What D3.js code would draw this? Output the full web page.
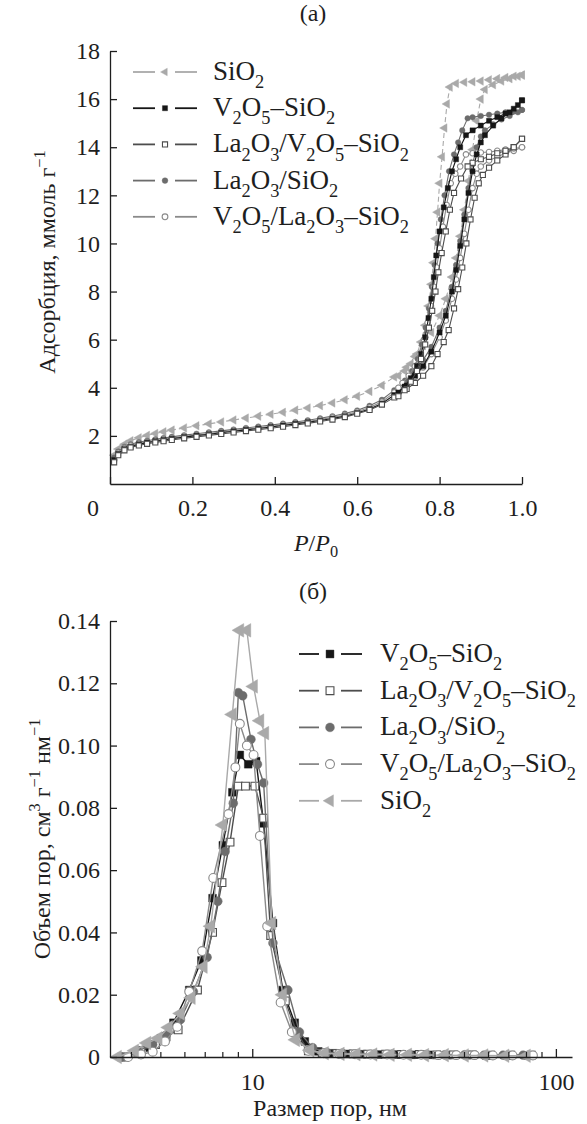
<!DOCTYPE html>
<html><head><meta charset="utf-8">
<script src="https://cdn.jsdelivr.net/npm/d3@7"></script>
<style>
body{margin:0;background:#fff}
svg{display:block}
</style>
</head><body>
<svg id="c" width="587" height="1124"></svg>
<script>
// ---------------- DATA: (a) isotherms ----------------
const pLow = [0.01,0.02,0.035,0.05,0.07,0.09,0.11,0.13,0.15,0.18,0.21,0.24,0.27,0.30,0.33,0.36,0.39,0.42,0.45,0.48,0.51,0.54,0.57,0.60,0.63,0.66,0.69];

const lowSiO2 = [1.2,1.45,1.65,1.8,1.92,2.02,2.1,2.17,2.24,2.33,2.42,2.5,2.58,2.66,2.74,2.82,2.9,2.98,3.07,3.16,3.26,3.37,3.5,3.65,3.85,4.1,4.45];
const lowVS   = [1.0,1.25,1.45,1.55,1.65,1.72,1.78,1.83,1.88,1.95,2.01,2.07,2.13,2.19,2.25,2.31,2.37,2.43,2.5,2.57,2.64,2.72,2.82,2.95,3.12,3.35,3.7];
const lowLVS  = [0.9,1.2,1.4,1.52,1.6,1.67,1.73,1.78,1.83,1.9,1.96,2.02,2.08,2.14,2.2,2.26,2.32,2.38,2.45,2.52,2.6,2.68,2.78,2.92,3.08,3.3,3.6];
const lowLS   = [1.1,1.35,1.55,1.65,1.74,1.8,1.86,1.91,1.96,2.03,2.09,2.15,2.21,2.27,2.33,2.39,2.45,2.51,2.58,2.65,2.73,2.82,2.93,3.06,3.25,3.5,3.9];
const lowVLS  = [1.0,1.3,1.5,1.6,1.68,1.75,1.81,1.86,1.91,1.98,2.04,2.1,2.16,2.22,2.28,2.34,2.4,2.46,2.53,2.6,2.68,2.77,2.87,3.0,3.18,3.42,3.8];

const adsSiO2 = [[0.72,4.85],[0.74,5.3],[0.76,5.75],[0.78,6.3],[0.80,7.0],[0.815,7.7],[0.83,8.6],[0.84,9.4],[0.85,10.3],[0.86,11.4],[0.87,12.6],[0.88,13.9],[0.89,15.1],[0.90,16.0],[0.91,16.4],[0.93,16.6],[0.95,16.75],[0.97,16.85],[0.99,16.95],[1.0,17.0]];
const desSiO2 = [[1.0,17.0],[0.98,16.95],[0.96,16.9],[0.94,16.85],[0.92,16.8],[0.90,16.75],[0.88,16.72],[0.86,16.7],[0.84,16.65],[0.825,16.5],[0.818,15.8],[0.812,14.8],[0.806,13.6],[0.80,12.5],[0.795,11.3],[0.79,10.2],[0.785,9.2],[0.78,8.3],[0.773,7.4],[0.765,6.6],[0.755,5.9],[0.745,5.4],[0.73,5.0],[0.715,4.7],[0.70,4.5]];

const adsVS = [[0.72,4.1],[0.74,4.5],[0.76,4.9],[0.78,5.5],[0.80,6.3],[0.815,7.0],[0.83,8.0],[0.84,8.9],[0.85,9.9],[0.86,11.0],[0.87,12.1],[0.88,13.0],[0.89,13.7],[0.90,14.2],[0.91,14.5],[0.93,14.9],[0.95,15.2],[0.97,15.45],[0.99,15.75],[1.0,15.95]];
const desVS = [[1.0,15.95],[0.98,15.6],[0.96,15.4],[0.94,15.25],[0.92,15.1],[0.90,14.9],[0.88,14.7],[0.864,14.5],[0.85,14.0],[0.84,13.5],[0.83,13.0],[0.82,12.3],[0.81,11.5],[0.80,10.5],[0.792,9.5],[0.786,8.6],[0.78,7.7],[0.773,6.9],[0.765,6.1],[0.755,5.4],[0.745,4.9],[0.73,4.4],[0.715,4.05],[0.70,3.8]];

const adsLVS = [[0.72,3.95],[0.74,4.2],[0.76,4.5],[0.78,4.9],[0.795,5.4],[0.81,5.9],[0.822,6.4],[0.835,7.3],[0.845,8.1],[0.855,9.0],[0.865,10.0],[0.875,11.0],[0.885,11.9],[0.895,12.5],[0.905,12.85],[0.92,13.15],[0.94,13.45],[0.96,13.7],[0.98,14.0],[1.0,14.35]];
const desLVS = [[1.0,14.35],[0.98,14.0],[0.96,13.85],[0.94,13.75],[0.92,13.6],[0.90,13.5],[0.88,13.35],[0.868,13.2],[0.852,12.7],[0.835,12.1],[0.825,11.4],[0.815,10.5],[0.805,9.6],[0.797,8.8],[0.79,8.0],[0.782,7.2],[0.774,6.5],[0.765,5.8],[0.755,5.2],[0.745,4.7],[0.73,4.25],[0.715,3.9],[0.70,3.65]];

const adsLS = [[0.72,4.3],[0.74,4.7],[0.76,5.15],[0.78,5.7],[0.80,6.5],[0.815,7.2],[0.83,8.2],[0.84,9.1],[0.85,10.1],[0.86,11.2],[0.87,12.3],[0.88,13.3],[0.89,14.0],[0.90,14.45],[0.91,14.7],[0.93,14.95],[0.95,15.15],[0.97,15.3],[0.99,15.45],[1.0,15.55]];
const desLS = [[1.0,15.55],[0.98,15.5],[0.96,15.45],[0.94,15.4],[0.92,15.35],[0.90,15.3],[0.88,15.25],[0.868,15.2],[0.855,14.7],[0.845,14.2],[0.835,13.7],[0.823,13.0],[0.812,12.0],[0.803,11.0],[0.795,10.0],[0.788,9.1],[0.781,8.2],[0.774,7.3],[0.766,6.5],[0.757,5.8],[0.747,5.2],[0.733,4.7],[0.716,4.3],[0.70,4.0]];

const adsVLS = [[0.72,4.1],[0.74,4.45],[0.76,4.85],[0.78,5.4],[0.80,6.1],[0.815,6.8],[0.83,7.7],[0.84,8.5],[0.85,9.4],[0.86,10.4],[0.87,11.4],[0.88,12.3],[0.89,12.9],[0.90,13.2],[0.92,13.45],[0.94,13.6],[0.96,13.75],[0.98,13.85],[1.0,14.0]];
const desVLS = [[1.0,14.0],[0.98,13.95],[0.96,13.9],[0.94,13.85],[0.92,13.8],[0.90,13.78],[0.88,13.75],[0.864,13.7],[0.85,13.2],[0.838,12.9],[0.827,12.5],[0.817,11.6],[0.808,10.7],[0.80,9.8],[0.793,9.0],[0.786,8.2],[0.779,7.4],[0.771,6.7],[0.762,6.0],[0.752,5.4],[0.74,4.9],[0.725,4.5],[0.71,4.2],[0.70,4.0]];

// ---------------- DATA: (б) pore size distribution ----------------
const dSiO2 = [3.6,4.1,4.5,4.9,5.3,5.8,6.3,6.9,7.3,8.0,8.6,9.1,9.6,10.1,10.6,11.0,11.6,12.6,13.9,15.5,17.3,19.5,22,25,28.5,32.5,37,43,50,58,68,80];
const vSiO2 = [0,0.002,0.0045,0.006,0.0095,0.014,0.019,0.029,0.042,0.0745,0.11,0.137,0.137,0.119,0.108,0.104,0.043,0.02,0.0055,0.0022,0.0012,0.001,0.0009,0.0008,0.0007,0.0007,0.0006,0.0006,0.0005,0.0005,0.0004,0.0004];
const dVS = [3.7,4.2,4.6,5.0,5.5,6.2,6.8,7.4,8.0,8.6,9.1,9.7,10.3,10.9,11.7,12.6,13.8,14.9,16.5,18.5,20.6,23,26,29.5,33.5,38,44,51,59,69,81];
const vVS = [0,0.0015,0.003,0.006,0.011,0.0215,0.031,0.051,0.068,0.085,0.097,0.094,0.095,0.075,0.043,0.0215,0.011,0.005,0.0018,0.0012,0.001,0.0009,0.0008,0.0008,0.0007,0.0007,0.0006,0.0006,0.0005,0.0005,0.0005];
const dLVS = [3.8,4.3,4.8,5.2,5.7,6.6,7.4,7.95,8.45,9.0,9.5,10.2,10.9,11.5,12.85,14.0,15.3,17,19,21.5,24,27.5,31,35.5,40.5,46,53,61,71,83];
const vLVS = [0,0.002,0.004,0.0065,0.0087,0.0215,0.04,0.056,0.069,0.087,0.087,0.087,0.0767,0.039,0.018,0.008,0.002,0.0013,0.0011,0.001,0.0009,0.0009,0.0008,0.0008,0.0007,0.0007,0.0007,0.0006,0.0006,0.0006];
const dLS = [3.7,4.2,4.7,5.2,5.8,6.4,7.1,7.7,8.14,8.66,9.0,9.3,9.9,10.4,10.9,11.7,13.1,14.3,15.8,17.6,19.8,22.3,25.2,28.8,33,37.5,43,50,58,67,78];
const vLS = [0,0.002,0.004,0.007,0.012,0.021,0.032,0.05,0.066,0.0815,0.117,0.116,0.102,0.094,0.088,0.0366,0.0215,0.008,0.003,0.0015,0.0012,0.001,0.0009,0.0009,0.0008,0.0008,0.0007,0.0007,0.0006,0.0006,0.0006];
const dVLS = [3.9,4.3,4.7,5.16,5.66,6.2,6.84,7.44,8.35,8.8,9.1,9.6,10.1,10.6,11.2,12.4,13.5,15.3,17.2,19.3,21.8,24.5,27.8,31.5,36,41,47,54,62,72,84];
const vVLS = [0,0.0008,0.0017,0.005,0.0097,0.021,0.034,0.0575,0.078,0.093,0.107,0.1,0.097,0.071,0.042,0.0175,0.008,0.002,0.0012,0.001,0.0009,0.0008,0.0008,0.0007,0.0007,0.0006,0.0006,0.0006,0.0005,0.0005,0.0005];

// ---------------- labels / ticks ----------------
const seriesNames = {
  SiO2: "SiO_2",
  VS:   "V_2O_5–SiO_2",
  LVS:  "La_2O_3/V_2O_5–SiO_2",
  LS:   "La_2O_3/SiO_2",
  VLS:  "V_2O_5/La_2O_3–SiO_2"
};
const legendOrderA = ["SiO2","VS","LVS","LS","VLS"];
const legendOrderB = ["VS","LVS","LS","VLS","SiO2"];
const xTicksA = [0.2,0.4,0.6,0.8,1.0];
const yTicksA = [2,4,6,8,10,12,14,16,18];
const yTicksB = [0,0.02,0.04,0.06,0.08,0.10,0.12,0.14];
const xMajorB = [10,100];
const xMinorB = [4,5,6,7,8,9,20,30,40,50,60,70,80,90];
const titleA = "(а)", titleB = "(б)";
const yLabelA = "Адсорбция, ммоль г^{−1}";
const yLabelB = "Объем пор, см^{3} г^{−1} нм^{−1}";
const xLabelB = "Размер пор, нм";

// ---------------- styles ----------------
const FONT = '"Liberation Serif"';
const INK = "#1e1e1e";
const style = {
  SiO2: {color:"#a9a9a9", sym:d3.symbolTriangle, rot:-90, open:false},
  VS:   {color:"#161616", sym:d3.symbolSquare, rot:0, open:false},
  LVS:  {color:"#4d4d4d", sym:d3.symbolSquare, rot:0, open:true},
  LS:   {color:"#6c6c6c", sym:d3.symbolCircle, rot:0, open:false},
  VLS:  {color:"#8a8a8a", sym:d3.symbolCircle, rot:0, open:true}
};
const TICK = 24, LEG = 27;
const svg = d3.select("#c");

function rich(sel, str, size){
  const parts = str.match(/(_.|\^\{[^}]*\}|[^_^]+)/g);
  let prev = 0;
  parts.forEach(p=>{
    let t=p, m='n';
    if(p[0]==='_'){t=p.slice(1);m='sub';}
    else if(p[0]==='^'){t=p.slice(2,-1);m='sup';}
    const off = m==='sub'? size*0.3 : m==='sup' ? -size*0.42 : 0;
    sel.append('tspan').text(t).attr('dy', off-prev)
      .style('font-family',FONT).style('font-size', (m==='n'?size:size*0.68)+'px');
    prev = off;
  });
}
function txt(x,y,size){
  return svg.append('text').attr('x',x).attr('y',y)
    .style('font-family',FONT).style('font-size',size+'px').style('fill',INK);
}
function symPath(key, size){
  return d3.symbol().type(style[key].sym).size(size)();
}
function drawMarkers(g, key, pts, x, y, size){
  const s = style[key];
  g.selectAll(null).data(pts).join('path')
    .attr('d', symPath(key,size))
    .attr('transform', d=>`translate(${x(d[0])},${y(d[1])}) rotate(${s.rot})`)
    .attr('fill', s.open?'#fff':s.color)
    .attr('stroke', s.color)
    .attr('stroke-width', s.open?1.1:0.4);
}
function styleAxis(g){
  g.attr('font-family',FONT).attr('font-size',TICK);
  g.selectAll('path,line').attr('stroke',INK).attr('stroke-width',1.3);
  g.selectAll('text').style('font-size',TICK+'px').style('font-family',FONT).style('fill',INK);
}
function legend(keys, x0, x1, xm, xt, y0, dy, msize, gap){
  keys.forEach((k,i)=>{
    const y = y0 + i*dy, s = style[k];
    const g = svg.append('g');
    g.append('line').attr('x1',x0).attr('x2',xm-gap).attr('y1',y).attr('y2',y).attr('stroke',s.color).attr('stroke-width',1.8);
    g.append('line').attr('x1',xm+gap).attr('x2',x1).attr('y1',y).attr('y2',y).attr('stroke',s.color).attr('stroke-width',1.8);
    g.append('path').attr('d',symPath(k,msize)).attr('transform',`translate(${xm},${y}) rotate(${s.rot})`)
      .attr('fill', s.open?'#fff':s.color).attr('stroke',s.color).attr('stroke-width',s.open?1.1:0.4);
    const t = txt(xt, y+8, LEG);
    rich(t, seriesNames[k], LEG);
  });
}

// ================= (a) =================
const xA = d3.scaleLinear().domain([0,1]).range([110,522]);
const yA = d3.scaleLinear().domain([0,18]).range([484,51]);
txt(313,21,TICK).attr('text-anchor','middle').text(titleA);

const isoSets = {
  SiO2:{low:lowSiO2, ads:adsSiO2, des:desSiO2},
  VS:{low:lowVS, ads:adsVS, des:desVS},
  LVS:{low:lowLVS, ads:adsLVS, des:desLVS},
  LS:{low:lowLS, ads:adsLS, des:desLS},
  VLS:{low:lowVLS, ads:adsVLS, des:desVLS}
};
const lineA = d3.line().x(d=>xA(d[0])).y(d=>yA(d[1]));
const drawOrderA = ["SiO2","LS","VLS","VS","LVS"];
const sizeA = {SiO2:32, VS:26, LVS:26, LS:24, VLS:24};
drawOrderA.forEach(k=>{
  const s = isoSets[k];
  const ads = pLow.map((p,i)=>[p,s.low[i]]).concat(s.ads);
  const g = svg.append('g');
  [ads, s.des].forEach(br=>{
    g.append('path').attr('d',lineA(br)).attr('fill','none').attr('stroke',style[k].color).attr('stroke-width',1.1)
      .attr('stroke-dasharray', k==='SiO2'?'5,3':null);
  });
  drawMarkers(g,k,ads,xA,yA,sizeA[k]);
  drawMarkers(g,k,s.des,xA,yA,sizeA[k]);
});

const gxA = svg.append('g').attr('transform','translate(0,484)')
  .call(d3.axisBottom(xA).tickValues([0].concat(xTicksA)).tickFormat(d=>d===0?'':d3.format('.1f')(d)).tickSizeInner(-7).tickSizeOuter(0).tickPadding(15));
styleAxis(gxA);
const gyA = svg.append('g').attr('transform','translate(110,0)')
  .call(d3.axisLeft(yA).tickValues(yTicksA).tickFormat(d3.format('d')).tickSizeInner(-7).tickSizeOuter(0).tickPadding(10));
styleAxis(gyA);
txt(93,516,TICK).attr('text-anchor','middle').text('0');
{
  const t = txt(0,0,TICK).attr('text-anchor','middle').attr('transform','translate(55,262) rotate(-90)');
  rich(t, yLabelA, TICK);
  const tx = txt(316,551,TICK).attr('text-anchor','middle');
  tx.append('tspan').style('font-family',FONT).style('font-style','italic').text('P');
  tx.append('tspan').style('font-family',FONT).text('/');
  tx.append('tspan').style('font-family',FONT).style('font-style','italic').text('P');
  tx.append('tspan').style('font-family',FONT).style('font-size',(TICK*0.68)+'px').attr('dy',6).text('0');
}
legend(legendOrderA, 133, 197, 165, 213, 72, 36.2, 26, 10);

// ================= (б) =================
const xB = d3.scaleLog().domain([3.4,113]).range([110,572]);
const yB = d3.scaleLinear().domain([0,0.14]).range([1057,621]);
txt(313,599,TICK).attr('text-anchor','middle').text(titleB);

const psdSets = {
  SiO2:[dSiO2,vSiO2], VS:[dVS,vVS], LVS:[dLVS,vLVS], LS:[dLS,vLS], VLS:[dVLS,vVLS]
};
const lineB = d3.line().x(d=>xB(d[0])).y(d=>yB(d[1]));
const drawOrderB = ["VS","LVS","LS","VLS","SiO2"];
const sizeB = {SiO2:80, VS:60, LVS:60, LS:62, VLS:62};
drawOrderB.forEach(k=>{
  const [ds,vs] = psdSets[k];
  const pts = ds.map((d,i)=>[d,vs[i]]);
  const g = svg.append('g');
  g.append('path').attr('d',lineB(pts)).attr('fill','none').attr('stroke',style[k].color).attr('stroke-width',1.4);
  drawMarkers(g,k,pts,xB,yB,sizeB[k]);
});

const gxB = svg.append('g').attr('transform','translate(0,1057)')
  .call(d3.axisBottom(xB).tickValues(xMajorB).tickFormat(d3.format('d')).tickSizeInner(-8).tickSizeOuter(0).tickPadding(16));
styleAxis(gxB);
svg.append('g').selectAll('line').data(xMinorB).join('line')
  .attr('x1',d=>xB(d)).attr('x2',d=>xB(d)).attr('y1',1057).attr('y2',1052)
  .attr('stroke',INK).attr('stroke-width',1.2);
const gyB = svg.append('g').attr('transform','translate(110,0)')
  .call(d3.axisLeft(yB).tickValues(yTicksB).tickFormat(d=>d===0?'0':d3.format('.2f')(d)).tickSizeInner(-7).tickSizeOuter(0).tickPadding(10));
styleAxis(gyB);
{
  const t = txt(0,0,TICK).attr('text-anchor','middle').attr('transform','translate(50,839) rotate(-90)');
  rich(t, yLabelB, TICK);
  txt(330,1116,TICK).attr('text-anchor','middle').text(xLabelB);
}
legend(legendOrderB, 299, 362, 330, 380, 654, 36.7, 62, 11);
</script>
</body></html>
